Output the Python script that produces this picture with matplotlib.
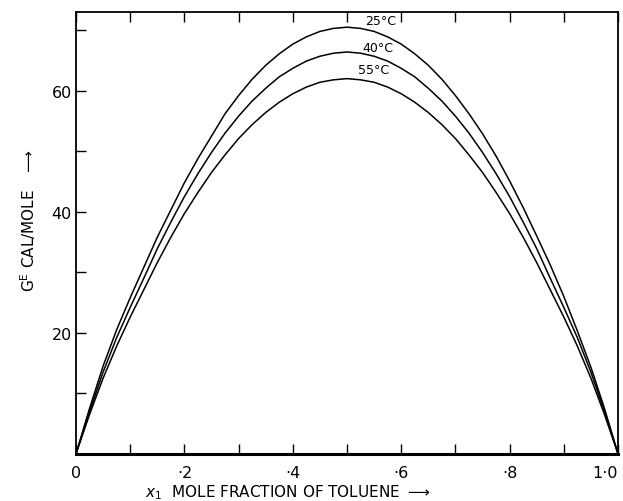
import numpy as np
import matplotlib
matplotlib.use("Agg")
import matplotlib.pyplot as plt

# mole fraction of toluene
x1 = [0, 0.025, 0.05, 0.075, 0.1, 0.125, 0.15, 0.175, 0.2, 0.225, 0.25,
      0.275, 0.3, 0.325, 0.35, 0.375, 0.4, 0.425, 0.45, 0.475, 0.5,
      0.525, 0.55, 0.575, 0.6, 0.625, 0.65, 0.675, 0.7, 0.725, 0.75,
      0.775, 0.8, 0.825, 0.85, 0.875, 0.9, 0.925, 0.95, 0.975, 1.0]

# G^E cal/mole
ge_25 = [0, 7.5, 14.5, 20.5, 25.8, 30.8, 35.8, 40.3, 44.8, 48.8, 52.5,
         56.2, 59.2, 61.9, 64.2, 66.1, 67.7, 68.9, 69.8, 70.3, 70.5,
         70.3, 69.8, 68.9, 67.7, 66.1, 64.2, 61.9, 59.2, 56.2, 52.9,
         49.2, 45.1, 40.7, 36.0, 31.2, 26.0, 20.3, 14.3, 7.5, 0]
ge_40 = [0, 7.0, 13.5, 19.2, 24.2, 29.0, 33.9, 38.3, 42.5, 46.3, 49.8,
         53.0, 55.8, 58.3, 60.4, 62.3, 63.7, 64.9, 65.7, 66.2, 66.4,
         66.2, 65.7, 64.9, 63.7, 62.3, 60.4, 58.3, 55.8, 53.0, 49.8,
         46.3, 42.5, 38.3, 33.9, 29.0, 24.2, 19.2, 13.5, 7.0, 0]
ge_55 = [0, 6.5, 12.5, 17.8, 22.6, 27.1, 31.6, 35.8, 39.7, 43.2, 46.5,
         49.4, 52.1, 54.4, 56.4, 58.1, 59.5, 60.6, 61.4, 61.8, 62.0,
         61.8, 61.4, 60.6, 59.5, 58.1, 56.4, 54.4, 52.1, 49.4, 46.5,
         43.2, 39.7, 35.8, 31.6, 27.1, 22.6, 17.8, 12.5, 6.5, 0]

labels = ["25°C", "40°C", "55°C"]
label_pos = [(0.562, 71.6), (0.557, 67.2), (0.549, 63.5)]

xticks = np.arange(0, 1.01, 0.1)
xticklabels = ["0", "", "·2", "", "·4", "", "·6", "", "·8", "", "1·0"]
yticks = [10, 20, 30, 40, 50, 60, 70]
yticklabels = ["", "20", "", "40", "", "60", ""]

fig = plt.figure(figsize=(6.23, 5.02), dpi=100)
ax = fig.add_axes([0.122, 0.094, 0.870, 0.880])

for ge in (ge_25, ge_40, ge_55):
    ax.plot(x1, ge, color="black", lw=1.1)

for lab, (xp, yp) in zip(labels, label_pos):
    ax.text(xp, yp, lab, ha="center", va="center", fontsize=9)

ax.set_xlim(0, 1.0)
ax.set_ylim(0, 73)
ax.set_xticks(xticks)
ax.set_xticklabels(xticklabels, fontsize=11.5)
ax.get_xticklabels()[-1].set_ha("right")
ax.set_yticks(yticks)
ax.set_yticklabels(yticklabels, fontsize=11.5)
ax.tick_params(direction="in", length=7, width=1, top=True, right=False, pad=8)
ax.tick_params(axis="y", pad=3)

for s in ax.spines.values():
    s.set_linewidth(1.3)
ax.spines["bottom"].set_linewidth(2.2)

ax.text(0.39, -0.085, r"$x_1$  MOLE FRACTION OF TOLUENE $\longrightarrow$",
        transform=ax.transAxes, ha="center", va="center", fontsize=11)
ax.text(-0.088, 0.53, r"G$^{\mathrm{E}}$ CAL/MOLE   $\longrightarrow$",
        transform=ax.transAxes, ha="center", va="center", fontsize=11,
        rotation=90)

fig.savefig("out.png", dpi=100)
